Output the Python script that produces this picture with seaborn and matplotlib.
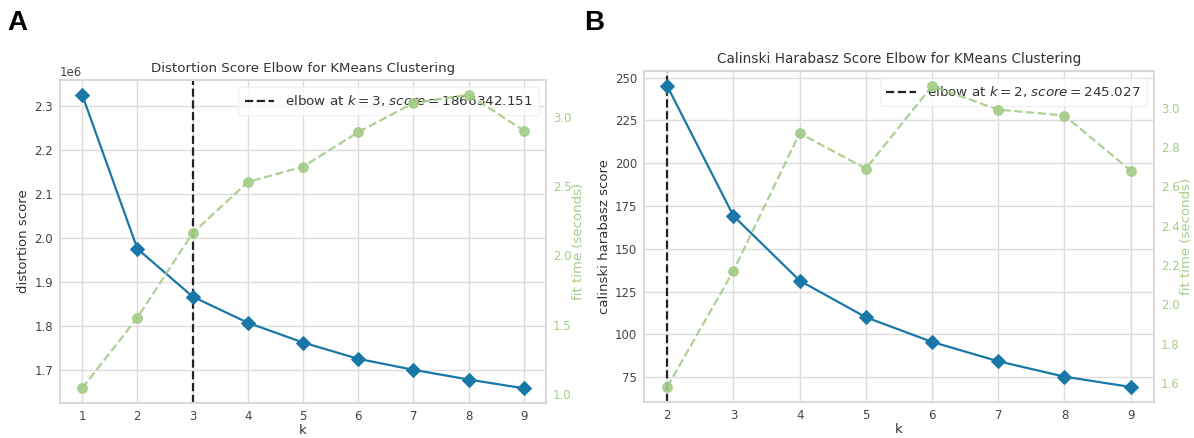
import matplotlib
matplotlib.use("Agg")
import matplotlib.pyplot as plt
import seaborn as sns
import pandas as pd

# ---- data ----
k_a = [1, 2, 3, 4, 5, 6, 7, 8, 9]
distortion = [2325000, 1975000, 1866342.151, 1807000, 1762000, 1725000, 1700000, 1678000, 1658000]
fit_time_a = [1.04, 1.55, 2.16, 2.53, 2.64, 2.89, 3.10, 3.16, 2.90]
elbow_a = 3
elbow_score_a = 1866342.151

k_b = [2, 3, 4, 5, 6, 7, 8, 9]
calinski = [245.027, 169.2, 131.4, 110.0, 95.6, 84.3, 75.3, 69.3]
fit_time_b = [1.58, 2.17, 2.87, 2.69, 3.11, 2.99, 2.96, 2.68]
elbow_b = 2
elbow_score_b = 245.027

titles = ["Distortion Score Elbow for KMeans Clustering",
          "Calinski Harabasz Score Elbow for KMeans Clustering"]
ylabels = ["distortion score", "calinski harabasz score"]
panel_labels = ["A", "B"]

sns.set_theme(style="whitegrid", rc={
    "axes.edgecolor": "#d9d9d9",
    "axes.linewidth": 1.5,
    "grid.color": "#dcdcdc",
    "grid.linewidth": 1.0,
    "text.color": "#333333",
    "axes.labelcolor": "#333333",
    "xtick.color": "#444444",
    "ytick.color": "#444444",
})
plt.rcParams["font.family"] = ["DejaVu Sans"]

BLUE = "#1a78a8"
GREEN = "#a3cc86"

fig = plt.figure(figsize=(11.94, 4.38), dpi=100)
ax_a = fig.add_axes([0.0503, 0.0799, 0.407, 0.7374])
ax_b = fig.add_axes([0.5394, 0.0822, 0.427, 0.7557])

panels = [
    (ax_a, k_a, distortion, fit_time_a, elbow_a, elbow_score_a),
    (ax_b, k_b, calinski, fit_time_b, elbow_b, elbow_score_b),
]
title_sizes = [9.6, 9.8]
label_x = [0.006, 0.489]

for i, (ax, ks, scores, times, elbow, escore) in enumerate(panels):
    df = pd.DataFrame({"k": ks, "score": scores, "time": times})
    sns.lineplot(data=df, x="k", y="score", ax=ax, color=BLUE, marker="D",
                 markersize=7, markeredgecolor=BLUE, linewidth=1.6, zorder=3)
    sc = "{:.3f}".format(escore)
    ax.axvline(elbow, color="#222222", linestyle="--", linewidth=1.6,
               label=f"elbow at $k={elbow}$, $score={sc}$", zorder=2)
    leg = ax.legend(loc="upper right", fontsize=9.7, frameon=True,
                    handlelength=2.2, borderpad=0.5)
    leg.get_frame().set_facecolor("white")
    leg.get_frame().set_edgecolor("#eeeeee")
    ax.set_title(titles[i], fontsize=title_sizes[i], color="#333333")
    ax.set_xlabel("k", fontsize=9.5, labelpad=1)
    ax.set_ylabel(ylabels[i], fontsize=9.5, labelpad=3)
    ax.tick_params(labelsize=8.5, pad=5, length=0)
    ax.set_xticks(ks)

    ax2 = ax.twinx()
    sns.lineplot(data=df, x="k", y="time", ax=ax2, color=GREEN, marker="o",
                 markersize=7, markeredgecolor=GREEN, linestyle="--",
                 linewidth=1.6, alpha=0.9)
    ax2.grid(False)
    ax2.set_ylabel("fit time (seconds)", color=GREEN, fontsize=9.5, labelpad=0)
    ax2.tick_params(axis="y", colors=GREEN, labelsize=8.5, length=0, pad=5)
    for s in ax2.spines.values():
        s.set_visible(False)

    fig.text(label_x[i], 0.977, panel_labels[i], fontsize=20,
             fontweight="bold", family="Liberation Sans", color="black",
             va="top", ha="left")

ax_a.ticklabel_format(axis="y", style="sci", scilimits=(6, 6))
ax_a.yaxis.get_offset_text().set_fontsize(8.5)

fig.savefig("out.png", dpi=100)
